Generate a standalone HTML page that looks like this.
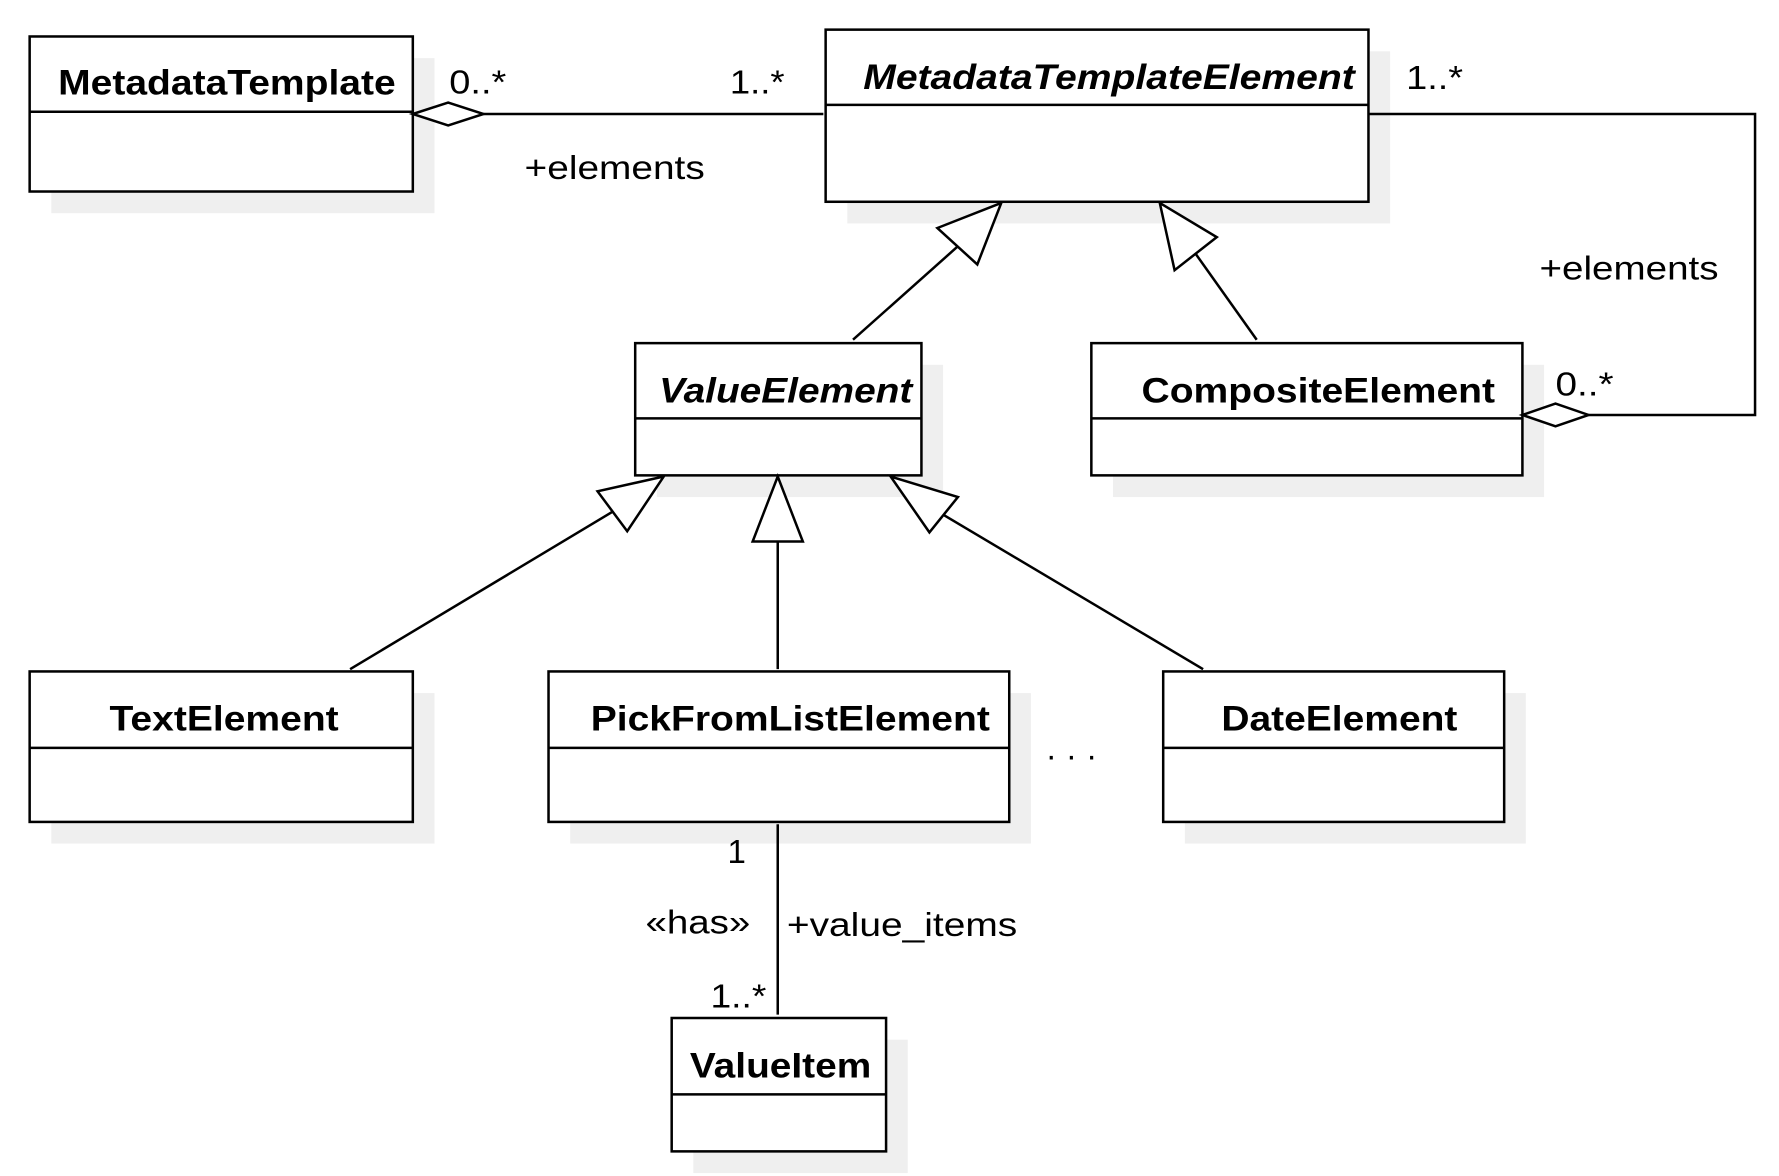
<!DOCTYPE html>
<html><head><meta charset="utf-8"><style>
html,body{margin:0;padding:0;background:#fff}
svg{display:block}
text{font-family:"Liberation Sans",Arial,sans-serif;fill:#000}
.t{font-size:31px;font-weight:bold}
.i{font-style:italic}
.l{font-size:29px}
.b{fill:#fff;stroke:#000;stroke-width:2.2}
.s{fill:#efefef}
.ln{stroke:#000;stroke-width:2.2;fill:none}
.tr{fill:#fff;stroke:#000;stroke-width:2.2}
</style></head><body>
<svg width="1779" height="1176" viewBox="0 0 1560 1031.6" preserveAspectRatio="none">
<rect class="s" x="45" y="51" width="336" height="136"/>
<rect class="s" x="743" y="45" width="476" height="151"/>
<rect class="s" x="576" y="320" width="251" height="116"/>
<rect class="s" x="976" y="320" width="378" height="116"/>
<rect class="s" x="45" y="608" width="336" height="132"/>
<rect class="s" x="500" y="608" width="404" height="132"/>
<rect class="s" x="1039" y="608" width="299" height="132"/>
<rect class="s" x="608" y="912" width="188" height="117"/>
<rect class="b" x="26" y="32" width="336" height="136"/><line class="ln" x1="26" y1="98" x2="362" y2="98"/>
<text class="t" x="51" y="83" textLength="296" lengthAdjust="spacingAndGlyphs">MetadataTemplate</text>
<rect class="b" x="724" y="26" width="476" height="151"/><line class="ln" x1="724" y1="92" x2="1200" y2="92"/>
<text class="t i" x="757" y="78" textLength="431" lengthAdjust="spacingAndGlyphs">MetadataTemplateElement</text>
<rect class="b" x="557" y="301" width="251" height="116"/><line class="ln" x1="557" y1="367" x2="808" y2="367"/>
<text class="t i" x="578" y="353" textLength="222" lengthAdjust="spacingAndGlyphs">ValueElement</text>
<rect class="b" x="957" y="301" width="378" height="116"/><line class="ln" x1="957" y1="367" x2="1335" y2="367"/>
<text class="t" x="1001" y="353" textLength="310" lengthAdjust="spacingAndGlyphs">CompositeElement</text>
<rect class="b" x="26" y="589" width="336" height="132"/><line class="ln" x1="26" y1="656" x2="362" y2="656"/>
<text class="t" x="96" y="641" textLength="201" lengthAdjust="spacingAndGlyphs">TextElement</text>
<rect class="b" x="481" y="589" width="404" height="132"/><line class="ln" x1="481" y1="656" x2="885" y2="656"/>
<text class="t" x="518" y="641" textLength="350" lengthAdjust="spacingAndGlyphs">PickFromListElement</text>
<rect class="b" x="1020" y="589" width="299" height="132"/><line class="ln" x1="1020" y1="656" x2="1319" y2="656"/>
<text class="t" x="1071" y="641" textLength="207" lengthAdjust="spacingAndGlyphs">DateElement</text>
<rect class="b" x="589" y="893" width="188" height="117"/><line class="ln" x1="589" y1="960" x2="777" y2="960"/>
<text class="t" x="605" y="945" textLength="159" lengthAdjust="spacingAndGlyphs">ValueItem</text>
<line class="ln" x1="424" y1="100" x2="722" y2="100"/>
<polygon class="tr" points="362,100 393,90 424,100 393,110"/>
<text class="l" x="394" y="82" textLength="50" lengthAdjust="spacingAndGlyphs">0..*</text>
<text class="l" x="640" y="82" textLength="48" lengthAdjust="spacingAndGlyphs">1..*</text>
<text class="l" x="460" y="157" textLength="158" lengthAdjust="spacingAndGlyphs">+elements</text>
<polyline class="ln" points="1200,100 1539,100 1539,364 1393,364"/>
<polygon class="tr" points="1335,364 1364,354 1393,364 1364,374"/>
<text class="l" x="1233" y="78" textLength="50" lengthAdjust="spacingAndGlyphs">1..*</text>
<text class="l" x="1350" y="245" textLength="157" lengthAdjust="spacingAndGlyphs">+elements</text>
<text class="l" x="1364" y="347" textLength="51" lengthAdjust="spacingAndGlyphs">0..*</text>
<line class="ln" x1="748" y1="298" x2="840" y2="216"/>
<polygon class="tr" points="878,178 822,200 857,232"/>
<line class="ln" x1="1102" y1="298" x2="1048" y2="222"/>
<polygon class="tr" points="1017,178 1030,237 1067,208"/>
<line class="ln" x1="307" y1="587" x2="537" y2="449"/>
<polygon class="tr" points="582,418 524,431 550,466"/>
<line class="ln" x1="682" y1="587" x2="682" y2="475"/>
<polygon class="tr" points="682,418 660,475 704,475"/>
<line class="ln" x1="1055" y1="587" x2="828" y2="452"/>
<polygon class="tr" points="781,418 815,467 840,436"/>
<line class="ln" x1="682" y1="723" x2="682" y2="890"/>
<text class="l" x="638" y="757">1</text>
<text class="l" x="566" y="819" textLength="92" lengthAdjust="spacingAndGlyphs">«has»</text>
<text class="l" x="690" y="821" textLength="202" lengthAdjust="spacingAndGlyphs">+value_items</text>
<text class="l" x="623" y="884" textLength="49" lengthAdjust="spacingAndGlyphs">1..*</text>
<text class="l" x="917" y="673">· · ·</text>
</svg>
</body></html>
